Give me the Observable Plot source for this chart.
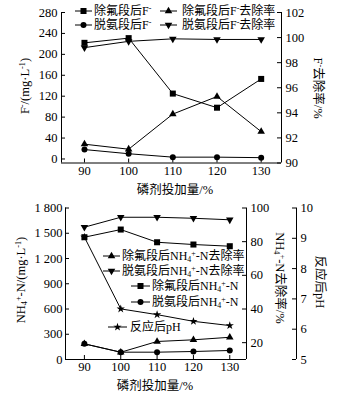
<!DOCTYPE html>
<html><head><meta charset="utf-8">
<script src="https://cdn.jsdelivr.net/npm/d3@7"></script>
<script src="https://cdn.jsdelivr.net/npm/@observablehq/plot@0.6"></script>
<style>
body{margin:0;background:#fff;}
#wrap{position:relative;width:342px;height:394px;overflow:hidden;font-family:"Liberation Serif","Times New Roman","Noto Sans CJK SC",serif;color:#000;background:#fff;}
#wrap svg.plot{position:absolute;left:0;}
.t{position:absolute;font-size:12.5px;white-space:nowrap;line-height:1;transform:translate(-50%,-50%);}
.t.l{transform:translate(-50%,-50%) rotate(-90deg);}
.t.r{transform:translate(-50%,-50%) rotate(90deg);}
.leg{position:absolute;font-size:12px;white-space:nowrap;display:flex;align-items:center;line-height:1;transform:translateY(-50%);}
.leg svg{display:block;overflow:visible;}
.sup{font-size:0.66em;position:relative;top:-0.45em;}
.sub{font-size:0.66em;position:relative;top:0.3em;}
</style></head>
<body><div id="wrap"></div>
<script>
// ---------- data ----------
const doses = [90, 100, 110, 120, 130];
// top chart (F-)
const fAfterDefluor = [222, 231, 125, 98, 153];        // 除氟段后F-  (mg/L)
const fAfterDeammon = [18, 10, 3.5, 3.5, 2.5];         // 脱氨段后F-  (mg/L)
const fRemDefluor = [91.5, 91.1, 93.9, 95.3, 92.5];    // 除氟段后F-去除率 (%)
const fRemDeammon = [99.2, 99.7, 99.9, 99.85, 99.85];  // 脱氨段后F-去除率 (%)
const topLeftTicks = [0, 40, 80, 120, 160, 200, 240, 280];
const topRightTicks = [90, 92, 94, 96, 98, 100, 102];
// bottom chart (NH4+-N)
const nAfterDefluor = [1453, 1544, 1393, 1366, 1346];  // 除氟段后NH4+-N (mg/L)
const nAfterDeammon = [186, 87, 87, 95, 107];          // 脱氨段后NH4+-N (mg/L)
const nRemDefluor = [19.3, 14.3, 20.7, 21.7, 23.2];    // 除氟段后NH4+-N去除率 (%)
const nRemDeammon = [88.6, 94.5, 94.5, 93.9, 93.0];    // 脱氨段后NH4+-N去除率 (%)
const phAfter = [9.04, 6.67, 6.48, 6.26, 6.12];        // 反应后pH
const botLeftTicks = [0, 300, 600, 900, 1200, 1500, 1800];
const botRightTicks = [20, 40, 60, 80, 100];
const phTicks = [5, 6, 7, 8, 9, 10];

// ---------- layout ----------
const W = 342;
const xDomain = [84.8, 134.6];
const wrap = document.getElementById("wrap");
const font = {fontFamily: '"Liberation Serif","Times New Roman","Noto Sans CJK SC",serif', fontSize: "12.5px", color: "#000", background: "transparent", overflow: "visible"};

function lineDots(data, key, symbol, r, rotate) {
  return [
    Plot.line(data, {x: "x", y: key, stroke: "#000", strokeWidth: 1}),
    Plot.dot(data, {x: "x", y: key, symbol, r, fill: "#000", stroke: null, rotate: rotate || 0})
  ];
}

// ---------- top chart ----------
{
  const H = 196, mT = 12, mB = 33.5, mL = 61, mR = 61;
  const pw = W - mL - mR, ph = H - mT - mB;
  const yDom = [-7.7, 280];
  const r2l = d3.scaleLinear([90, 102], yDom);
  const data = doses.map((x, i) => ({x, a: fAfterDefluor[i], b: fAfterDeammon[i], c: r2l(fRemDefluor[i]), d: r2l(fRemDeammon[i])}));
  const svg = Plot.plot({
    width: W, height: H, marginTop: mT, marginBottom: mB, marginLeft: mL, marginRight: mR,
    style: font,
    x: {domain: xDomain},
    y: {domain: yDom},
    marks: [
      Plot.ruleX(xDomain, {stroke: "#000"}),
      Plot.ruleY([yDom[0]], {stroke: "#000"}),
      Plot.tickY(topLeftTicks, {y: d => d, insetRight: pw - 4, stroke: "#000"}),
      Plot.tickY(topRightTicks.map(r2l), {y: d => d, insetLeft: pw - 4, stroke: "#000"}),
      Plot.tickX(doses, {x: d => d, insetTop: ph - 4, stroke: "#000"}),
      Plot.axisY(topLeftTicks, {anchor: "left", tickSize: 0, tickPadding: 4, label: null}),
      Plot.axisY(topRightTicks.map(r2l), {anchor: "right", tickSize: 0, tickPadding: 4, label: null, tickFormat: d => Math.round(r2l.invert(d))}),
      Plot.axisX(doses, {anchor: "bottom", tickSize: 0, tickPadding: 3, label: null}),
      ...lineDots(data, "a", "square", 3.4),
      ...lineDots(data, "b", "circle", 3),
      ...lineDots(data, "c", "triangle", 2.8),
      ...lineDots(data, "d", "triangle", 2.8, 180)
    ]
  });
  svg.style.top = "0px";
  wrap.appendChild(svg);
}

// ---------- bottom chart ----------
{
  const H = 198, mT = 11.5, mB = 35, mL = 65, mR = 96;
  const pw = W - mL - mR, ph = H - mT - mB;
  const yDom = [0, 1800];
  const r2l = d3.scaleLinear([10, 100], yDom);
  const p2l = d3.scaleLinear([5, 10], yDom);
  const data = doses.map((x, i) => ({x, a: nAfterDefluor[i], b: nAfterDeammon[i], c: r2l(nRemDefluor[i]), d: r2l(nRemDeammon[i]), p: p2l(phAfter[i])}));
  const fmt = d => d >= 1000 ? Math.floor(d / 1000) + " " + String(d % 1000).padStart(3, "0") : String(d);
  const svg = Plot.plot({
    width: W, height: H, marginTop: mT, marginBottom: mB, marginLeft: mL, marginRight: mR,
    style: font,
    x: {domain: xDomain},
    y: {domain: yDom},
    marks: [
      Plot.ruleX(xDomain, {stroke: "#000"}),
      Plot.ruleX([xDomain[1]], {dx: 50, stroke: "#000"}),
      Plot.ruleY([yDom[0]], {stroke: "#000"}),
      Plot.tickY(botLeftTicks, {y: d => d, insetRight: pw - 4, stroke: "#000"}),
      Plot.tickY(botRightTicks.map(r2l), {y: d => d, insetLeft: pw - 4, stroke: "#000"}),
      Plot.tickY(phTicks.map(p2l), {y: d => d, insetLeft: pw - 4, dx: 50, stroke: "#000"}),
      Plot.tickX(doses, {x: d => d, insetTop: ph - 4, stroke: "#000"}),
      Plot.axisY(botLeftTicks, {anchor: "left", tickSize: 0, tickPadding: 3, label: null, tickFormat: fmt}),
      Plot.axisY(botRightTicks.map(r2l), {anchor: "right", tickSize: 0, tickPadding: 4, label: null, tickFormat: d => Math.round(r2l.invert(d))}),
      Plot.axisY(phTicks.map(p2l), {anchor: "right", dx: 50, tickSize: 0, tickPadding: 4, label: null, tickFormat: d => Math.round(p2l.invert(d))}),
      Plot.axisX(doses, {anchor: "bottom", tickSize: 0, tickPadding: 3, label: null}),
      ...lineDots(data, "p", "star", 2.6),
      ...lineDots(data, "a", "square", 3.4),
      ...lineDots(data, "b", "circle", 3),
      ...lineDots(data, "c", "triangle", 2.8),
      ...lineDots(data, "d", "triangle", 2.8, 180)
    ]
  });
  svg.style.top = "196px";
  wrap.appendChild(svg);
}

// ---------- titles ----------
const NH4 = 'NH<span class="sub">4</span><span class="sup">+</span>-N';
const Fm = 'F<span class="sup">-</span>';
function title(html, x, y, cls) {
  const d = document.createElement("div");
  d.className = "t " + (cls || "");
  d.style.left = x + "px"; d.style.top = y + "px";
  d.innerHTML = html;
  wrap.appendChild(d);
}
title(Fm + '/(mg·L<span class="sup">-1</span>)', 25, 86, "l");
title(Fm + '去除率/%', 318, 88, "r");
title('磷剂投加量/%', 175, 190);
title(NH4 + '/(mg·L<span class="sup">-1</span>)', 21, 280, "l");
title(NH4 + '去除率/%', 280, 278, "r");
title('反应后pH', 320, 282, "r");
title('磷剂投加量/%', 155, 386);

// ---------- legends ----------
const symMap = {square: d3.symbolSquare, circle: d3.symbolCircle, triangle: d3.symbolTriangle, star: d3.symbolStar};
function legend(sym, r, rot, label, x, y, sw, gap) {
  const size = Math.PI * r * r;
  const path = d3.symbol(symMap[sym], size)();
  const d = document.createElement("div");
  d.className = "leg";
  d.style.left = x + "px"; d.style.top = y + "px";
  d.innerHTML = `<svg width="${sw}" height="10"><line x1="0" y1="5" x2="${sw}" y2="5" stroke="#000" stroke-width="1"/><path d="${path}" transform="translate(${sw / 2},5) rotate(${rot})" fill="#000"/></svg><span style="margin-left:${gap}px">${label}</span>`;
  wrap.appendChild(d);
}
legend("square", 3.4, 0, "除氟段后" + Fm, 75, 11, 17, 2);
legend("circle", 3, 0, "脱氨段后" + Fm, 75, 24.5, 17, 2);
legend("triangle", 2.8, 0, "除氟段后" + Fm + "去除率", 160, 11, 17, 5);
legend("triangle", 2.8, 180, "脱氨段后" + Fm + "去除率", 160, 24.5, 17, 5);
legend("triangle", 2.8, 0, "除氟段后" + NH4 + "去除率", 103, 256, 17, 2);
legend("triangle", 2.8, 180, "脱氨段后" + NH4 + "去除率", 103, 271, 17, 2);
legend("square", 3.4, 0, "除氟段后" + NH4, 131, 286, 19, 2);
legend("circle", 3, 0, "脱氨段后" + NH4, 131, 302, 19, 2);
legend("star", 2.6, 0, "反应后pH", 108, 327, 19, 3);
</script></body></html>
